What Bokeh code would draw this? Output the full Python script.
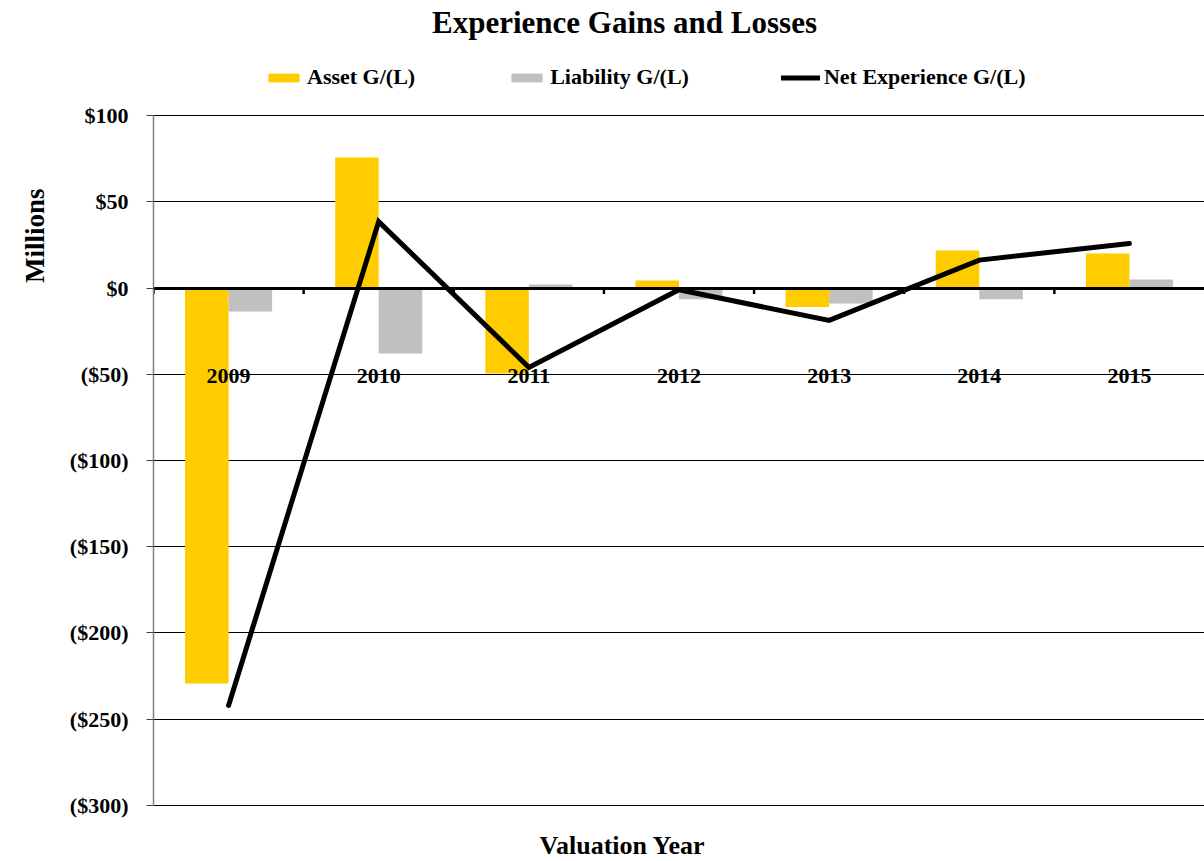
from bokeh.plotting import figure
from bokeh.models import (ColumnDataSource, FactorRange, Range1d, FixedTicker, Legend,
                          LegendItem, Title, Label)
from bokeh.transform import dodge
from bokeh.core.properties import value
from bokeh.embed import file_html
from bokeh.resources import INLINE

years = ["2009", "2010", "2011", "2012", "2013", "2014", "2015"]
asset = [-229.3, 75.7, -49.6, 4.3, -11.0, 21.7, 20.0]
liability = [-13.6, -38.0, 2.0, -6.5, -9.0, -6.5, 4.9]
net = [-242.0, 38.5, -46.0, -1.0, -18.8, 16.2, 25.8]
yticks = [-300, -250, -200, -150, -100, -50, 0, 50, 100]
ytick_labels = ["($300)", "($250)", "($200)", "($150)", "($100)", "($50)", "$0", "$50", "$100"]

FONT = "Liberation Serif"
YELLOW = "#FFCC00"
GRAY = "#C0C0C0"

src = ColumnDataSource(dict(year=years, asset=asset, liability=liability, net=net,
                            zero=[0] * len(years), tick_end=[-3.5] * len(years),
                            label_y=[-51] * len(years)))

# the frame fills the canvas height; the value range is padded above and below
# so that the title, legend and x-axis title can sit inside it (no gridlines there)
y_bottom, y_top = -332.5, 166.7
p = figure(width=1204, height=861, x_range=FactorRange(factors=years, range_padding=0),
           y_range=Range1d(y_bottom, y_top), output_backend="svg", toolbar_location=None,
           min_border_left=152, min_border_right=0, min_border_top=0, min_border_bottom=0)
p.outline_line_color = None
p.background_fill_color = "white"
p.border_fill_color = "white"

# axes
p.xaxis.visible = False
p.xgrid.visible = False
yax = p.yaxis[0]
yax.bounds = (min(yticks), max(yticks))
yax.ticker = FixedTicker(ticks=yticks)
yax.major_label_overrides = {t: l for t, l in zip(yticks, ytick_labels)}
yax.major_label_text_font = FONT
yax.major_label_text_font_style = "bold"
yax.major_label_text_font_size = "22px"
yax.major_label_text_color = "black"
yax.major_label_standoff = 18
yax.major_tick_out = 7
yax.major_tick_in = 0
yax.minor_tick_out = 0
yax.minor_tick_in = 0
yax.axis_line_color = "#808080"
yax.axis_line_width = 1.5
yax.major_tick_line_color = "#404040"
p.ygrid.ticker = FixedTicker(ticks=yticks)
p.ygrid.grid_line_color = "black"
p.ygrid.grid_line_width = 1

# bars
r_asset = p.vbar(x=dodge("year", -0.145, range=p.x_range), top="asset", bottom="zero",
                 width=0.29, source=src, fill_color=YELLOW, line_color=None)
r_liab = p.vbar(x=dodge("year", 0.145, range=p.x_range), top="liability", bottom="zero",
                width=0.29, source=src, fill_color=GRAY, line_color=None)

# zero axis line and category boundary ticks
p.hspan(y=[0], line_color="black", line_width=3)
p.segment(x0=dodge("year", -0.5, range=p.x_range), x1=dodge("year", -0.5, range=p.x_range),
          y0="zero", y1="tick_end", source=src, line_color="black", line_width=2.5)

# net line
r_net = p.line(x="year", y="net", source=src, line_color="black", line_width=5,
               line_join="miter", line_cap="round")

# category labels sitting on the -50 gridline
p.text(x="year", y="label_y", text="year", source=src, text_align="center",
       text_baseline="middle", text_font=value(FONT), text_font_style="bold",
       text_font_size="22px", text_color="black")

legend = Legend(items=[LegendItem(label="Asset G/(L)", renderers=[r_asset]),
                       LegendItem(label="Liability G/(L)", renderers=[r_liab]),
                       LegendItem(label="Net Experience G/(L)", renderers=[r_net])],
                orientation="horizontal", location=(111, 771), padding=0, margin=0,
                spacing=92, glyph_width=39, glyph_height=11, label_standoff=4,
                label_text_font=FONT, label_text_font_style="bold",
                label_text_font_size="22px", label_text_color="black",
                border_line_color=None, background_fill_alpha=0)
p.add_layout(legend, "center")

p.add_layout(Label(x=471, y=839, x_units="screen", y_units="screen",
                   text="Experience Gains and Losses", text_align="center",
                   text_baseline="middle", text_font=FONT, text_font_style="bold",
                   text_font_size="31px", text_color="black"))
p.add_layout(Label(x=469, y=16, x_units="screen", y_units="screen",
                   text="Valuation Year", text_align="center", text_baseline="middle",
                   text_font=FONT, text_font_style="bold", text_font_size="26px",
                   text_color="black"))
p.add_layout(Title(text="Millions", align="right", offset=188, standoff=34,
                   text_font=FONT, text_font_style="bold",
                   text_font_size="27px", text_color="black"), "left")

open("out.html", "w").write(file_html(p, INLINE))
